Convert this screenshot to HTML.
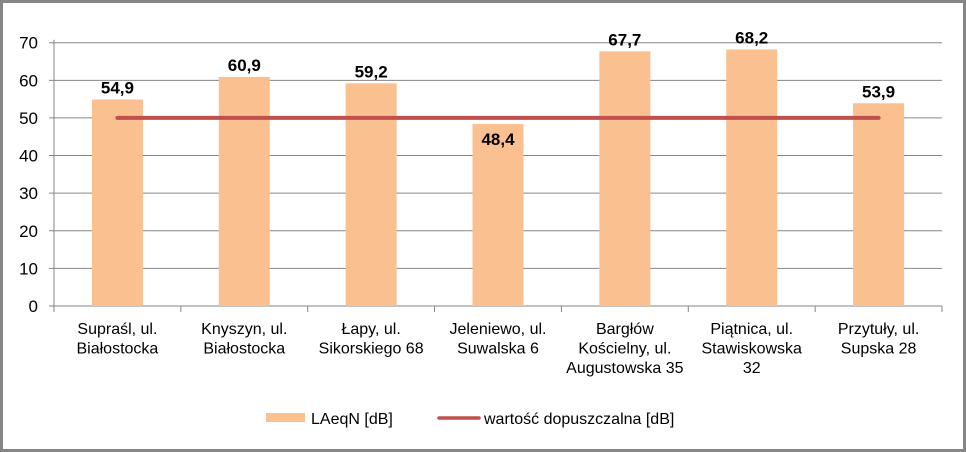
<!DOCTYPE html>
<html><head><meta charset="utf-8"><style>
body{margin:0;background:#fff}
svg{display:block;font-family:"Liberation Sans",sans-serif}
</style></head><body>
<svg id="c" width="966" height="452">
<rect x="1.5" y="1.5" width="963" height="449" fill="#fff" stroke="#868686" stroke-width="3"/>
<g id="plot"></g>
<g>
<rect x="266" y="413" width="39" height="9" fill="#FAC090"/>
<text x="311" y="424" font-size="16" fill="#000">LAeqN [dB]</text>
<line x1="439" y1="418" x2="479" y2="418" stroke="#C0504D" stroke-width="3.5" stroke-linecap="round"/>
<text x="484" y="424" font-size="16" fill="#000">wartość dopuszczalna [dB]</text>
</g>
</svg>
<script>
const categories=[["Supraśl, ul.","Białostocka"],["Knyszyn, ul.","Białostocka"],["Łapy, ul.","Sikorskiego 68"],["Jeleniewo, ul.","Suwalska 6"],["Bargłów","Kościelny, ul.","Augustowska 35"],["Piątnica, ul.","Stawiskowska","32"],["Przytuły, ul.","Supska 28"]];
const values=[54.9,60.9,59.2,48.4,67.7,68.2,53.9];
const labels=["54,9","60,9","59,2","48,4","67,7","68,2","53,9"];
const limits=[50,50,50,50,50,50,50];
const yTicks=[0,10,20,30,40,50,60,70];
const NS="http://www.w3.org/2000/svg";
const g=document.getElementById('plot');
const X0=54,X1=942,Y0=306,Y70=42.7;
const bw=(X1-X0)/categories.length;
const y=v=>Y0-(v/70)*(Y0-Y70);
const xc=i=>X0+bw*(i+0.5);
function mk(t,a){const e=document.createElementNS(NS,t);for(const k in a)e.setAttribute(k,a[k]);g.appendChild(e);return e;}
yTicks.forEach(t=>{
 const l=mk('line',{x1:X0-5,x2:X1,y1:y(t),y2:y(t),stroke:'#868686','stroke-width':1});
 
 
 const tx=mk('text',{x:X0-16,y:y(t)+6,'font-size':17,'text-anchor':'end',fill:'#000'});tx.textContent=t;
 
 
});
const ax=mk('line',{x1:X0,x2:X0,y1:Y70-3,y2:Y0+6,stroke:'#868686'});


for(let i=0;i<=categories.length;i++){
 const tk=mk('line',{x1:X0+bw*i,x2:X0+bw*i,y1:Y0,y2:Y0+6,stroke:'#868686'});
 
 
}
values.forEach((v,i)=>{
 const r=mk('rect',{x:xc(i)-25.5,y:y(v),width:51,height:Y0-y(v),fill:'#FAC090'});
 
 
 const t=mk('text',{x:xc(i),y:y(v)-6,'font-size':17,'font-weight':'bold','text-anchor':'middle',fill:'#000'});t.textContent=labels[i];
 
 
 if(v<limits[i]) t.setAttribute('y',y(v)+21);
 categories[i].forEach((s,j)=>{
  const c=mk('text',{x:xc(i),y:334+j*19.5,'font-size':16,'text-anchor':'middle',fill:'#000'});c.textContent=s;
  
  
 });
});
const pts=limits.map((v,i)=>xc(i)+','+y(v)).join(' ');
const pl=mk('polyline',{points:pts,fill:'none',stroke:'#C0504D','stroke-width':4,'stroke-linecap':'round'});


</script>
</body></html>
